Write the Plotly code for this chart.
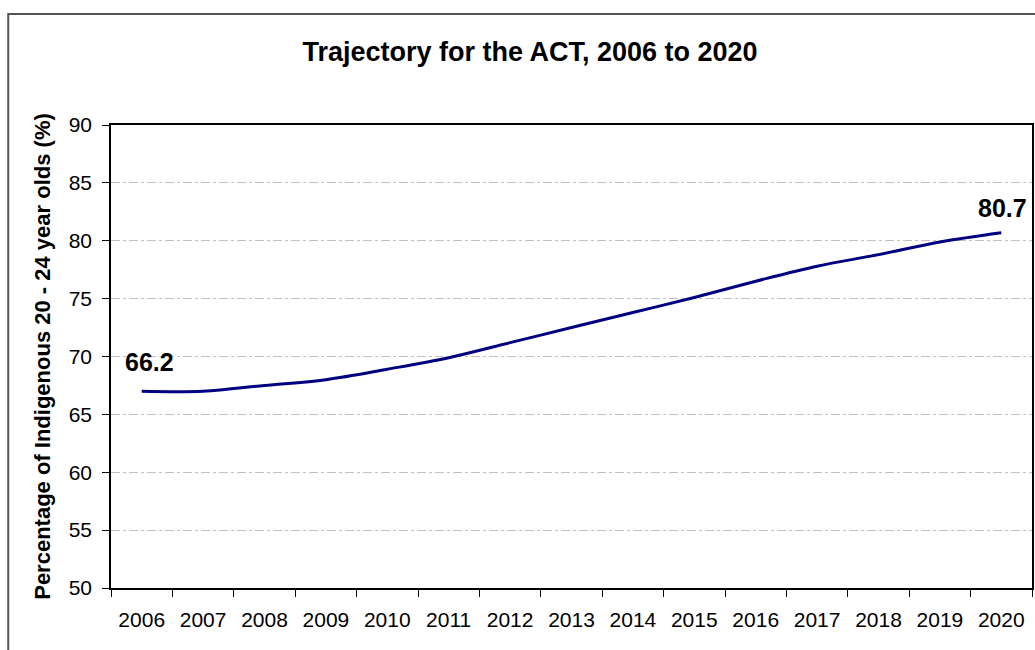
import plotly.graph_objects as go

years = [str(y) for y in range(2006, 2021)]
trajectory = [67.0, 67.0, 67.5, 68.0, 68.9, 69.9, 71.2, 72.5, 73.8, 75.1,
              76.5, 77.8, 78.8, 79.9, 80.7]
start_label = "66.2"
end_label = "80.7"

fig = go.Figure()

fig.add_trace(
    go.Scatter(
        x=years,
        y=trajectory,
        mode="lines",
        line=dict(color="#000080", width=3, shape="spline", smoothing=1.0),
        showlegend=False,
    )
)

# end-point value labels (category index positions)
fig.add_annotation(x=0, y=trajectory[0], text=f"<b>{start_label}</b>",
                   showarrow=False, yshift=29, xshift=8,
                   font=dict(size=25, color="black"))
fig.add_annotation(x=len(years) - 1, y=trajectory[-1], text=f"<b>{end_label}</b>",
                   showarrow=False, yshift=25, xshift=1,
                   font=dict(size=25, color="black"))

# outer chart frame
fig.add_shape(type="rect", xref="paper", yref="paper",
              x0=(8 - 111) / 923, x1=1.2, y0=-0.3, y1=1 + (125 - 14) / 463,
              line=dict(color="#555555", width=2), layer="below")

fig.update_layout(
    width=1035,
    height=650,
    margin=dict(l=111, r=1, t=125, b=62),
    paper_bgcolor="white",
    plot_bgcolor="white",
    font=dict(family="Liberation Sans, Arial, sans-serif", color="black"),
    title=dict(text="<b>Trajectory for the ACT, 2006 to 2020</b>",
               x=530 / 1035, xanchor="center", y=1 - 52 / 650, yanchor="middle",
               font=dict(size=27, color="black")),
)

fig.update_xaxes(
    type="category",
    range=[-0.5, len(years) - 0.5],
    tickson="boundaries",
    ticks="outside",
    ticklen=7,
    tickcolor="black",
    showline=True,
    linecolor="black",
    linewidth=1.5,
    mirror=True,
    showgrid=False,
    tickangle=0,
    tickfont=dict(size=21),
    ticklabelstandoff=12,
)

fig.update_yaxes(
    range=[50, 90],
    dtick=5,
    ticks="outside",
    ticklen=7,
    tickcolor="black",
    showline=True,
    linecolor="black",
    linewidth=1.5,
    mirror=True,
    showgrid=True,
    gridcolor="#c0c0c0",
    griddash="dashdot",
    gridwidth=1,
    zeroline=False,
    tickfont=dict(size=21),
    ticklabelstandoff=6,
    title=dict(text="<b>Percentage of Indigenous 20 - 24 year olds (%)</b>",
               font=dict(size=22), standoff=12),
)

fig.write_html("out.html", config={"displayModeBar": False},
               post_script="document.body.style.margin='0';")
